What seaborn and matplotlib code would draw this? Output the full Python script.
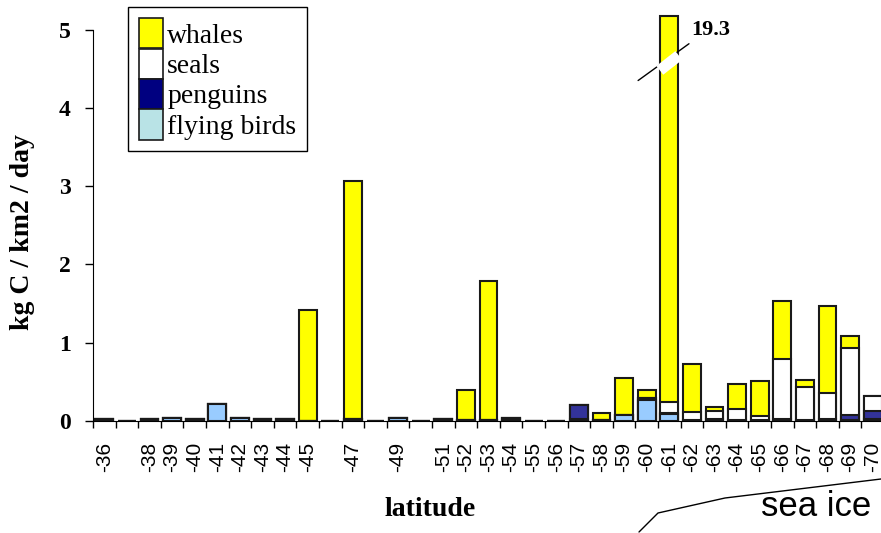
import numpy as np
import pandas as pd
import matplotlib
matplotlib.use("Agg")
import matplotlib.pyplot as plt
from matplotlib.patches import Patch
from matplotlib.lines import Line2D
import seaborn as sns

# latitude bins, -36 .. -70 (some labels not printed on the axis)
latitude = [-36, -37, -38, -39, -40, -41, -42, -43, -44, -45, -46, -47,
            -48, -49, -50, -51, -52, -53, -54, -55, -56, -57, -58, -59,
            -60, -61, -62, -63, -64, -65, -66, -67, -68, -69, -70]
tick_labels = ["-36", "", "-38", "-39", "-40", "-41", "-42", "-43", "-44",
               "-45", "", "-47", "", "-49", "", "-51", "-52", "-53", "-54",
               "-55", "-56", "-57", "-58", "-59", "-60", "-61", "-62", "-63",
               "-64", "-65", "-66", "-67", "-68", "-69", "-70"]

# kg C / km2 / day
whales = [0, 0, 0, 0, 0, 0, 0, 0, 0, 1.42, 0, 3.04,
          0, 0, 0, 0, 0.39, 1.78, 0, 0, 0, 0, 0.09, 0.47,
          0.11, 19.06, 0.61, 0.05, 0.32, 0.45, 0.74, 0.10, 1.11, 0.16, 0]
seals = [0, 0, 0, 0, 0, 0, 0, 0, 0, 0, 0, 0,
         0, 0, 0, 0, 0, 0, 0, 0, 0, 0, 0, 0,
         0, 0.14, 0.11, 0.10, 0.14, 0.05, 0.76, 0.42, 0.33, 0.85, 0.19]
penguins = [0, 0, 0, 0, 0, 0, 0, 0, 0, 0, 0, 0,
            0, 0, 0, 0, 0, 0, 0.01, 0, 0, 0.18, 0, 0,
            0.02, 0.01, 0.01, 0.03, 0.01, 0.01, 0.03, 0.01, 0.03, 0.07, 0.11]
flying_birds = [0.02, 0, 0.02, 0.04, 0.02, 0.22, 0.04, 0.02, 0.02, 0, 0, 0.03,
                0, 0.04, 0, 0.02, 0.01, 0.01, 0.03, 0, 0, 0.02, 0.01, 0.08,
                0.27, 0.09, 0, 0, 0, 0, 0, 0, 0, 0.01, 0.02]

broken_value = "19.3"
broken_lat = -61
y_cap = 5.17  # bars taller than this are drawn broken

sns.set_style("white")
plt.rcParams['font.family'] = ['Liberation Serif', 'DejaVu Serif']
plt.rcParams['text.color'] = 'black'
plt.rcParams['axes.labelcolor'] = 'black'
plt.rcParams['xtick.color'] = 'black'
plt.rcParams['ytick.color'] = 'black'

df = pd.DataFrame({"lat": [str(l) for l in latitude],
                   "whales": whales, "seals": seals,
                   "penguins": penguins, "flying_birds": flying_birds})
df["birds_top"] = df["flying_birds"]
df["penguins_top"] = df["birds_top"] + df["penguins"]
df["seals_top"] = df["penguins_top"] + df["seals"]
df["whales_top"] = np.minimum(df["seals_top"] + df["whales"], y_cap)

fig = plt.figure(figsize=(8.81, 5.33), dpi=100)
ax = fig.add_axes([93 / 881, 112 / 533, 791 / 881, 407 / 533])

order = list(df["lat"])
layers = [("whales_top", "#FFFF00"), ("seals_top", "#FFFFFF"),
          ("penguins_top", "#333399"), ("birds_top", "#99CCFF")]
for col, c in layers:
    sns.barplot(data=df, x="lat", y=col, order=order, color=c, saturation=1,
                width=0.78, edgecolor="#1a1a1a", linewidth=1.5,
                errorbar=None, ax=ax)

ax.set_xlim(-0.5, len(latitude) - 0.5)
ax.set_ylim(0, 5.2)
ax.set_xlabel("")
ax.set_ylabel("")
sns.despine(ax=ax)
ax.spines["left"].set_bounds(0, 5)
ax.spines["left"].set_color("black")
ax.spines["bottom"].set_color("black")

ax.set_yticks(range(6))
ax.set_yticklabels([str(i) for i in range(6)], fontsize=17, fontweight="bold")
ax.tick_params(axis="y", direction="out", length=6, width=1, pad=10,
               left=True, color="black", labelcolor="black")

ax.set_xticks(np.arange(-0.5, len(latitude), 1))
ax.set_xticklabels([])
ax.set_xticks(np.arange(len(latitude)), minor=True)
ax.set_xticklabels(tick_labels, minor=True, rotation=90,
                   fontfamily="Liberation Sans", fontsize=15)
ax.tick_params(axis="x", which="major", direction="out", length=5, width=1,
               bottom=True, color="black")
ax.tick_params(axis="x", which="minor", length=0, pad=15, labelcolor="black")

# broken bar marker
bi = latitude.index(broken_lat)
ax.plot([bi - 1.38, bi + 0.87], [4.35, 4.82], color="black", lw=1, zorder=5)
ax.plot([bi - 0.42, bi + 0.42], [4.48, 4.67], color="white", lw=8,
        solid_capstyle="butt", zorder=6)
ax.text(bi + 1.82, 5.0, broken_value, ha="center", va="center",
        fontsize=16, fontweight="bold", color="black")

fig.text(23 / 881, 1 - 232 / 533, "kg C / km2 / day", rotation=90,
         ha="center", va="center", fontsize=20, fontweight="bold",
         color="black")
fig.text(430 / 881, 1 - 509 / 533, "latitude", ha="center", va="center",
         fontsize=20, fontweight="bold", color="black")

# sea ice indicator
fig.add_artist(Line2D([639 / 881, 658 / 881, 725 / 881, 1.0],
                      [1 - 532 / 533, 1 - 513 / 533, 1 - 498 / 533, 1 - 479 / 533],
                      color="black", lw=1))
fig.text(816 / 881, 1 - 506 / 533, "sea ice", ha="center", va="center",
         fontsize=25, fontfamily="Liberation Sans", color="black")

handles = [Patch(facecolor="#FFFF00", edgecolor="#1a1a1a", lw=1.2),
           Patch(facecolor="#FFFFFF", edgecolor="#1a1a1a", lw=1.2),
           Patch(facecolor="#000080", edgecolor="#1a1a1a", lw=1.2),
           Patch(facecolor="#B9E3E6", edgecolor="#1a1a1a", lw=1.2)]
leg = fig.legend(handles, ["whales", "seals", "penguins", "flying birds"],
                 loc="upper left", bbox_to_anchor=(128 / 881, 1 - 7 / 533),
                 borderaxespad=0, fontsize=20, handlelength=0.86,
                 handleheight=1.3, labelspacing=0, handletextpad=0.15,
                 borderpad=0.4, fancybox=False, framealpha=1,
                 edgecolor="black", labelcolor="black")
leg.get_frame().set_linewidth(1)

fig.savefig("out.png", dpi=100)
